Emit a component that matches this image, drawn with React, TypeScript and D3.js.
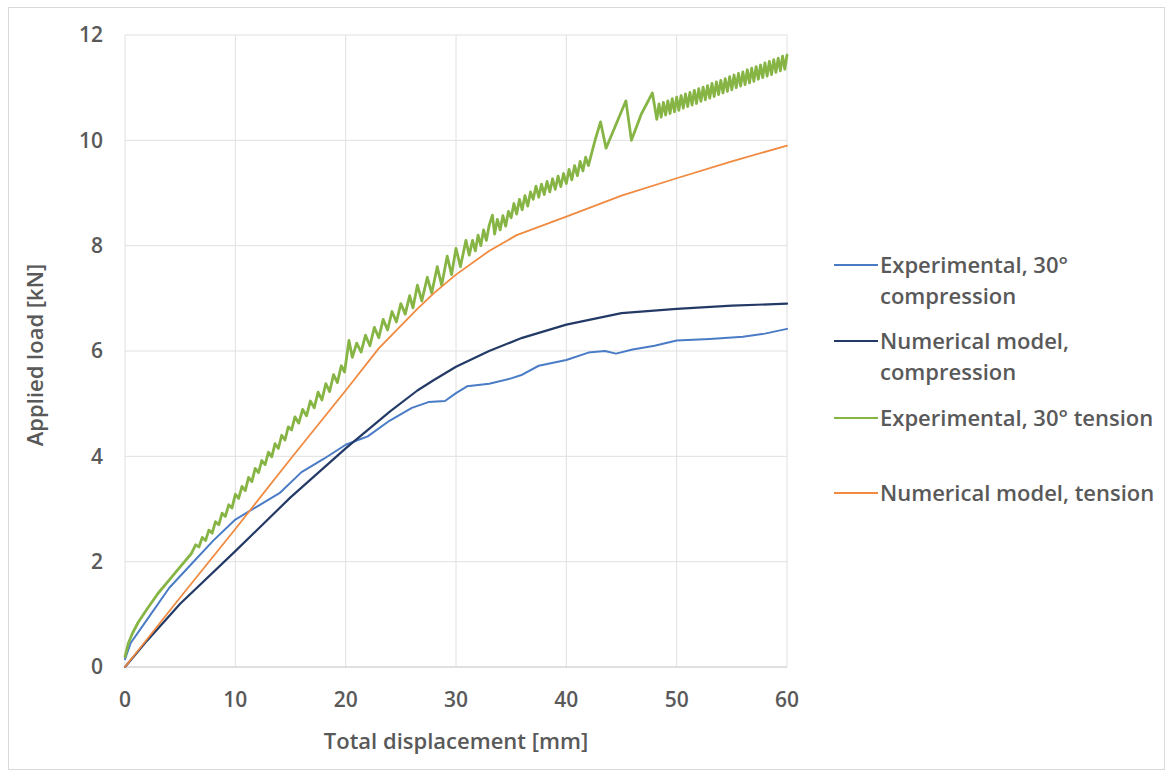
// @ts-nocheck
import * as d3 from "d3";
import React from "react";

// x ticks (mm) and y ticks (kN)
const xTicks = [0, 10, 20, 30, 40, 50, 60];
const yTicks = [0, 2, 4, 6, 8, 10, 12];

// Experimental, 30° compression
const expCompression = [
  [0, 0.15], [0.5, 0.45], [2, 0.9], [4, 1.5], [6, 1.95], [8, 2.4], [10, 2.8],
  [12, 3.05], [14, 3.3], [16, 3.7], [18, 3.95], [20, 4.22], [21, 4.3],
  [22, 4.38], [24, 4.68], [26, 4.92], [27.5, 5.03], [29, 5.05], [30, 5.2],
  [31, 5.33], [33, 5.38], [35, 5.48], [36, 5.55], [37.5, 5.72], [40, 5.83],
  [42, 5.97], [43.5, 6.0], [44.5, 5.95], [46, 6.03], [48, 6.1], [50, 6.2],
  [53, 6.23], [56, 6.27], [58, 6.33], [60, 6.42],
];

// Numerical model, compression
const numCompression = [
  [0, 0], [2, 0.5], [5, 1.2], [10, 2.2], [15, 3.22], [20, 4.15], [24, 4.85],
  [26.5, 5.25], [28, 5.45], [30, 5.7], [33, 6.0], [36, 6.25], [40, 6.5],
  [45, 6.72], [50, 6.8], [55, 6.86], [60, 6.9],
];

// Experimental, 30° tension
const expTension = [
  [0, 0.2], [0.3, 0.45], [0.7, 0.65], [1.2, 0.85], [2, 1.1], [3, 1.4],
  [4, 1.65], [5, 1.9], [6, 2.15],
  [6.4, 2.32], [6.7, 2.28], [7.0, 2.46], [7.3, 2.4], [7.6, 2.6], [7.9, 2.54],
  [8.2, 2.76], [8.5, 2.7], [8.8, 2.92], [9.1, 2.86], [9.4, 3.08], [9.7, 3.02],
  [10.0, 3.28], [10.3, 3.2], [10.6, 3.43], [10.9, 3.35], [11.2, 3.6],
  [11.5, 3.52], [11.8, 3.77], [12.1, 3.69], [12.4, 3.92], [12.7, 3.84],
  [13.0, 4.08], [13.3, 3.99], [13.6, 4.24], [13.9, 4.15], [14.2, 4.4],
  [14.5, 4.31], [14.8, 4.56], [15.1, 4.5],
  [15.4, 4.75], [15.75, 4.63], [16.1, 4.89], [16.45, 4.77], [16.8, 5.05],
  [17.15, 4.92], [17.5, 5.22], [17.85, 5.07], [18.2, 5.38], [18.55, 5.23],
  [18.9, 5.55], [19.25, 5.4], [19.6, 5.72], [19.9, 5.6], [20.3, 6.2],
  [20.6, 5.88],
  [21.0, 6.15], [21.4, 5.98], [21.8, 6.3], [22.2, 6.1], [22.6, 6.45],
  [23.0, 6.25], [23.4, 6.6], [23.8, 6.4], [24.2, 6.75], [24.6, 6.55],
  [25.0, 6.9], [25.4, 6.7],
  [25.8, 7.05], [26.1, 6.82], [26.5, 7.25], [26.9, 6.95], [27.4, 7.4],
  [27.8, 7.1], [28.3, 7.6], [28.7, 7.25], [29.2, 7.8], [29.6, 7.45],
  [30, 7.95], [30.4, 7.6], [30.9, 8.1], [31.2, 7.82],
  [31.5, 8.1], [31.75, 7.9], [32.0, 8.2], [32.25, 8.0], [32.5, 8.3],
  [32.75, 8.1], [33.0, 8.38], [33.3, 8.58], [33.5, 8.22], [33.75, 8.5],
  [34.0, 8.3], [34.25, 8.57], [34.5, 8.37], [34.75, 8.65], [35.0, 8.53],
  [35.25, 8.8], [35.5, 8.6], [35.75, 8.88], [36.0, 8.68], [36.25, 8.95],
  [36.5, 8.75], [36.75, 9.02], [37.0, 8.88], [37.25, 9.13], [37.5, 8.92],
  [37.75, 9.17], [38.0, 8.97], [38.25, 9.22], [38.5, 9.02], [38.75, 9.27],
  [39.0, 9.07], [39.25, 9.32], [39.5, 9.12], [39.75, 9.37], [40.0, 9.18],
  [40.25, 9.45], [40.5, 9.25], [40.75, 9.52], [41.0, 9.33], [41.25, 9.6],
  [41.5, 9.42], [41.75, 9.68], [42.0, 9.52],
  [42.6, 10.0], [43.1, 10.35], [43.6, 9.85], [44.5, 10.3], [45.4, 10.75],
  [45.9, 10.0], [46.8, 10.5], [47.8, 10.9], [48.2, 10.4],
  [48.4, 10.69], [48.6, 10.44], [48.8, 10.72], [49.0, 10.48], [49.2, 10.75],
  [49.4, 10.51], [49.6, 10.79], [49.8, 10.54], [50.0, 10.82], [50.2, 10.57],
  [50.4, 10.85], [50.6, 10.61], [50.8, 10.88], [51.0, 10.64], [51.2, 10.91],
  [51.4, 10.67], [51.6, 10.95], [51.8, 10.7], [52.0, 10.98], [52.2, 10.74],
  [52.4, 11.01], [52.6, 10.77], [52.8, 11.04], [53.0, 10.8], [53.2, 11.08],
  [53.4, 10.83], [53.6, 11.11], [53.8, 10.87], [54.0, 11.14], [54.2, 10.9],
  [54.4, 11.17], [54.6, 10.93], [54.8, 11.21], [55.0, 10.96], [55.2, 11.24],
  [55.4, 11.0], [55.6, 11.27], [55.8, 11.03], [56.0, 11.3], [56.2, 11.06],
  [56.4, 11.34], [56.6, 11.09], [56.8, 11.37], [57.0, 11.12], [57.2, 11.4],
  [57.4, 11.16], [57.6, 11.43], [57.8, 11.19], [58.0, 11.47], [58.2, 11.22],
  [58.4, 11.5], [58.6, 11.25], [58.8, 11.53], [59.0, 11.29], [59.2, 11.56],
  [59.4, 11.32], [59.6, 11.6], [59.8, 11.35], [60.0, 11.62],
];

// Numerical model, tension
const numTension = [
  [0, 0], [5, 1.32], [10, 2.62], [15, 3.95], [20, 5.25], [23, 6.05],
  [26.5, 6.8], [28, 7.1], [30, 7.45], [33, 7.9], [35.5, 8.2], [40, 8.55],
  [45, 8.95], [50, 9.28], [55, 9.6], [60, 9.9],
];

const series = [
  { label: ["Experimental, 30°", "compression"], data: expCompression, color: "#4a7cc6", width: 2, ly: 265 },
  { label: ["Numerical model,", "compression"], data: numCompression, color: "#233a66", width: 2.2, ly: 341 },
  { label: ["Experimental, 30° tension"], data: expTension, color: "#87b545", width: 2.8, ly: 418 },
  { label: ["Numerical model, tension"], data: numTension, color: "#ef8a40", width: 1.8, ly: 493 },
];

const W = 1171;
const H = 778;
const left = 125;
const right = 787;
const top = 35;
const bottom = 667;
const font = "'Open Sans', 'Liberation Sans', sans-serif";
const textColor = "#595959";

export default function App() {
  const x = d3.scaleLinear([0, 60], [left, right]);
  const y = d3.scaleLinear([0, 12], [bottom, top]);
  const line = d3
    .line()
    .x((d) => x(d[0]))
    .y((d) => y(d[1]));

  return (
    <svg
      width={W}
      height={H}
      style={{ position: "absolute", left: 0, top: 0, background: "#fff" }}
      fontFamily={font}
    >
      <rect x={8.5} y={7.5} width={1156} height={762} fill="#fff" stroke="#d9d9d9" />
      <g stroke="#e0e0e0" strokeWidth={1}>
        {xTicks.map((t) => (
          <line key={"vx" + t} x1={x(t)} x2={x(t)} y1={top} y2={bottom} />
        ))}
        {yTicks.map((t) => (
          <line key={"hy" + t} x1={left} x2={right} y1={y(t)} y2={y(t)} />
        ))}
      </g>
      <line x1={left} x2={right} y1={bottom} y2={bottom} stroke="#d0d0d0" />
      <g fill={textColor} fontSize={21} fontWeight={600}>
        {yTicks.map((t) => (
          <text key={"yl" + t} x={103} y={y(t)} dy="0.35em" textAnchor="end">
            {t}
          </text>
        ))}
        {xTicks.map((t) => (
          <text key={"xl" + t} x={x(t)} y={700} dy="0.35em" textAnchor="middle">
            {t}
          </text>
        ))}
      </g>
      <text
        x={456}
        y={741}
        dy="0.35em"
        textAnchor="middle"
        fontSize={22}
        fontWeight={600}
        fill={textColor}
      >
        Total displacement [mm]
      </text>
      <text
        transform={`translate(35,${(top + bottom) / 2 + 4}) rotate(-90)`}
        dy="0.35em"
        textAnchor="middle"
        fontSize={22}
        fontWeight={600}
        fill={textColor}
      >
        Applied load [kN]
      </text>
      <g fill="none" strokeLinejoin="round" strokeLinecap="round">
        {series.map((s, i) => (
          <path key={i} d={line(s.data)} stroke={s.color} strokeWidth={s.width} />
        ))}
      </g>
      <g fontSize={22} fontWeight={600} fill={textColor}>
        {series.map((s, i) => (
          <g key={i}>
            <line x1={834} x2={878} y1={s.ly} y2={s.ly} stroke={s.color} strokeWidth={2.2} />
            {s.label.map((l, j) => (
              <text key={j} x={880} y={s.ly + j * 31} dy="0.35em">
                {l}
              </text>
            ))}
          </g>
        ))}
      </g>
    </svg>
  );
}
